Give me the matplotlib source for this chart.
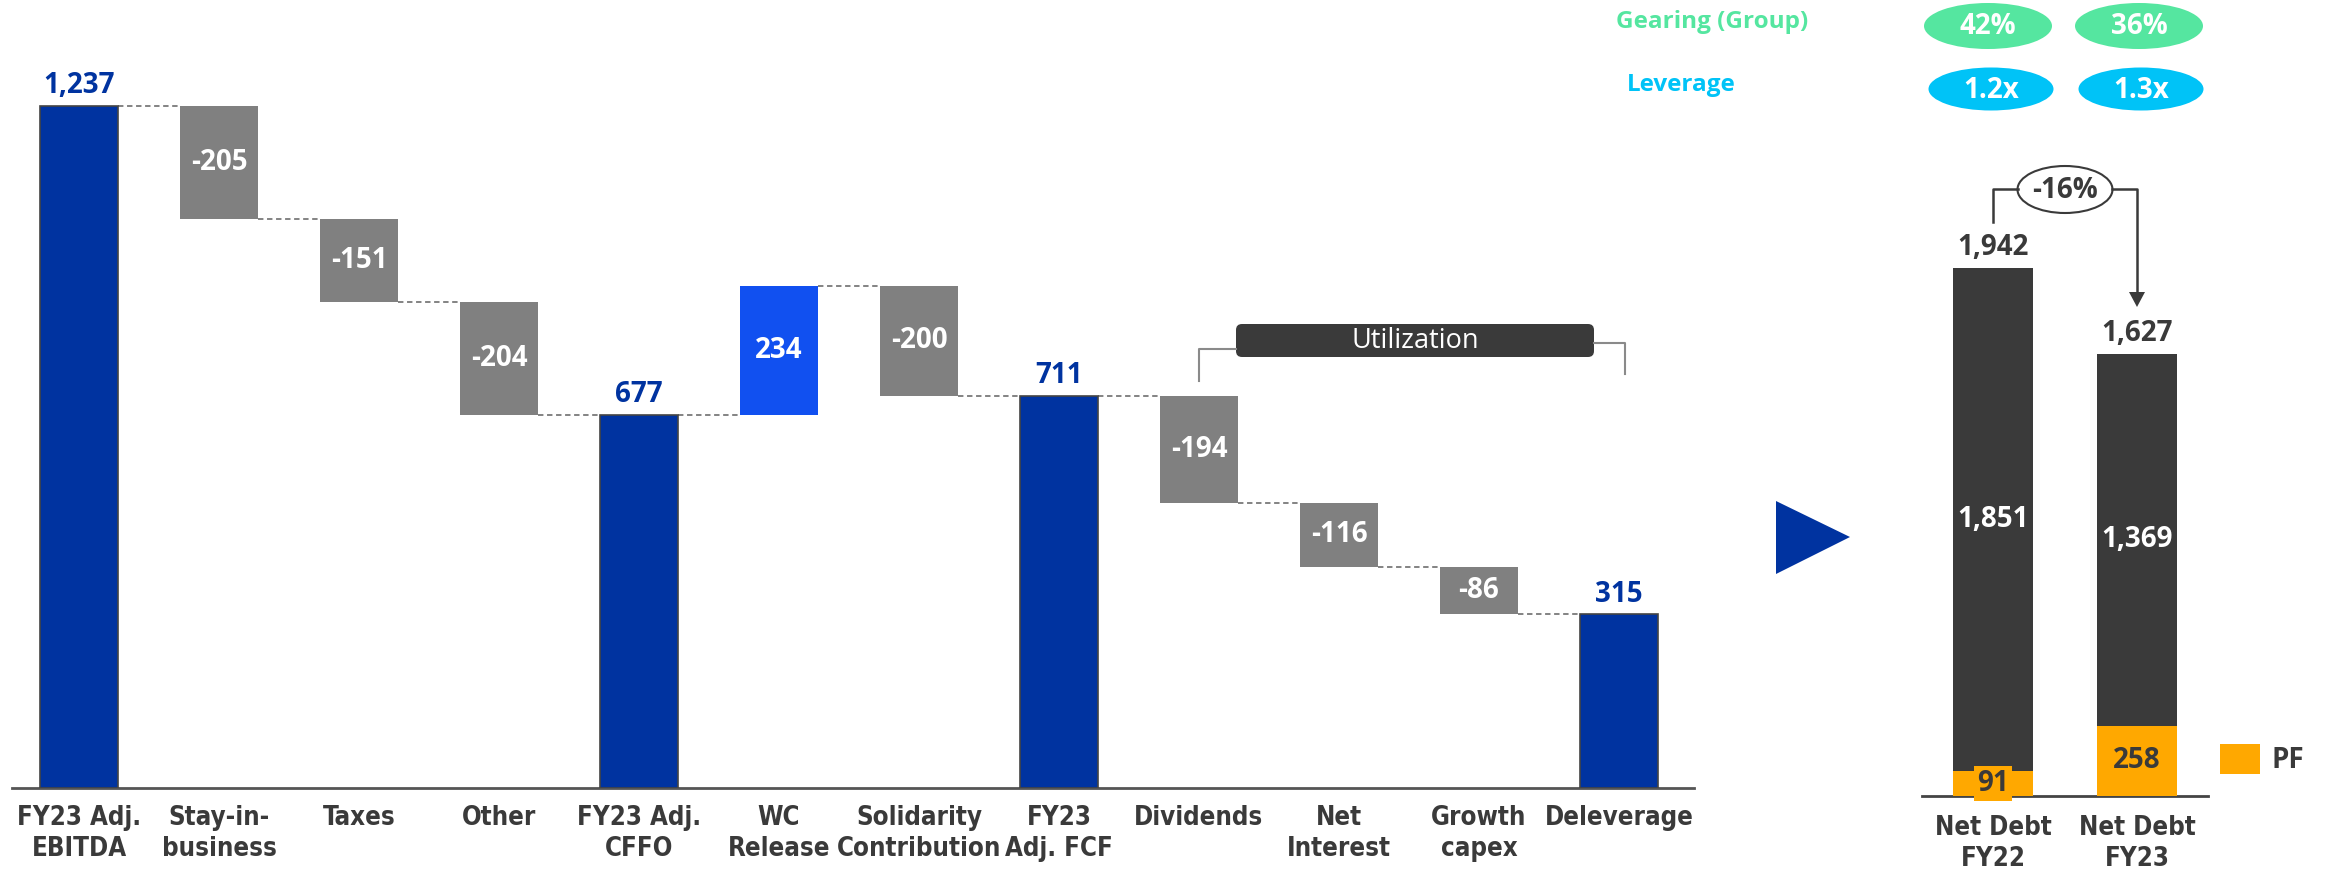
import matplotlib
matplotlib.use('Agg')
import matplotlib.pyplot as plt
from matplotlib import font_manager as fm
from matplotlib.patches import Ellipse, Polygon, FancyBboxPatch, Rectangle
import numpy as np

# ---------------- data ----------------
categories = ["FY23 Adj.\nEBITDA", "Stay-in-\nbusiness", "Taxes", "Other", "FY23 Adj.\nCFFO",
              "WC\nRelease", "Solidarity\nContribution", "FY23\nAdj. FCF", "Dividends",
              "Net\nInterest", "Growth\ncapex", "Deleverage"]
values = [1237, -205, -151, -204, 677, 234, -200, 711, -194, -116, -86, 315]
kinds = ['total', 'delta', 'delta', 'delta', 'total', 'delta', 'delta', 'total',
         'delta', 'delta', 'delta', 'total']
bracket_label = "Utilization"

nd_categories = ["Net Debt\nFY22", "Net Debt\nFY23"]
nd_core = [1851, 1369]
nd_pf = [91, 258]
nd_total = [1942, 1627]
nd_change = "-16%"
pf_label = "PF"

gearing_label = "Gearing (Group)"
gearing = ["42%", "36%"]
leverage_label = "Leverage"
leverage = ["1.2x", "1.3x"]

# ---------------- style ----------------
C_TOTAL = '#0033A0'
C_NEG = '#808080'
C_POS = '#1150F0'
C_DARK = '#3A3A3A'
C_PF = '#FFA800'
C_GREEN = '#55E6A0'
C_CYAN = '#00C3F7'
NUM_FS = 20

names = {f.name for f in fm.fontManager.ttflist}
MAIN = 'Open Sans' if 'Open Sans' in names else 'DejaVu Sans'
cond_dejavu = any(f.name == 'DejaVu Sans' and str(f.stretch) in ('condensed', 'semi-condensed')
                  for f in fm.fontManager.ttflist)
if 'Liberation Sans Narrow' in names:
    tick_fp = fm.FontProperties(family='Liberation Sans Narrow', weight='bold', size=19.5)
elif cond_dejavu:
    tick_fp = fm.FontProperties(family='DejaVu Sans', stretch='condensed', weight='bold', size=18.5)
else:
    tick_fp = fm.FontProperties(family='Roboto', weight='bold', size=17.5)

plt.rcParams['font.family'] = [MAIN, 'DejaVu Sans']

W, H = 2330, 873
fig = plt.figure(figsize=(W / 100, H / 100), dpi=100)

# ---------------- waterfall ----------------
base_y = 788
ax = fig.add_axes([12 / W, (H - base_y) / H, (1694 - 12) / W, base_y / H])
ax.set_xlim(-0.479, 11.536)
ax.set_ylim(0, base_y / 0.5515)

bw = 0.557
bottoms, heights, colors, levels = [], [], [], []
level = 0
for v, k in zip(values, kinds):
    if k == 'total':
        bottoms.append(0); heights.append(v); colors.append(C_TOTAL); level = v
    else:
        if v < 0:
            bottoms.append(level + v); heights.append(-v); colors.append(C_NEG)
        else:
            bottoms.append(level); heights.append(v); colors.append(C_POS)
        level += v
    levels.append(level)

x = np.arange(len(values))
edge = [('#444444' if k == 'total' else 'none') for k in kinds]
ax.bar(x, heights, bottom=bottoms, width=bw, color=colors, edgecolor=edge, linewidth=1.2, zorder=3)

for i in range(len(values) - 1):
    ax.plot([x[i] + bw / 2, x[i + 1] - bw / 2], [levels[i], levels[i]],
            ls=(0, (3, 2)), color='#7A7A7A', lw=1.3, zorder=2)

for i, (v, k) in enumerate(zip(values, kinds)):
    if k == 'total':
        ax.annotate(f"{v:,}", (x[i], v), xytext=(0, 9), textcoords='offset points',
                    ha='center', va='baseline', color=C_TOTAL, fontsize=NUM_FS, fontweight='bold')
    else:
        ax.text(x[i], bottoms[i] + heights[i] / 2, f"{v:,}", ha='center', va='center',
                color='white', fontsize=NUM_FS, fontweight='bold', zorder=4)

for s in ['top', 'right', 'left']:
    ax.spines[s].set_visible(False)
ax.spines['bottom'].set_color('#555555')
ax.spines['bottom'].set_linewidth(2)
ax.set_yticks([])
ax.set_xticks(x)
ax.set_xticklabels(categories, color=C_DARK, linespacing=1.25)
for t in ax.get_xticklabels():
    t.set_fontproperties(tick_fp)
ax.tick_params(axis='x', length=0, pad=12)

# ---------------- net debt ----------------
rb = 796
ax2 = fig.add_axes([1922 / W, (H - rb) / H, (2208 - 1922) / W, rb / H])
ax2.set_xlim(-0.493, 1.493)
ax2.set_ylim(0, rb / 0.2719)
x2 = np.arange(len(nd_core))
bw2 = 0.556
ax2.bar(x2, nd_pf, width=bw2, color=C_PF, zorder=3)
ax2.bar(x2, nd_core, bottom=nd_pf, width=bw2, color=C_DARK, zorder=3)
for i in range(len(x2)):
    ax2.text(x2[i], nd_pf[i] + nd_core[i] / 2, f"{nd_core[i]:,}", ha='center', va='center',
             color='white', fontsize=NUM_FS, fontweight='bold', zorder=4)
    if nd_pf[i] < 150:
        ax2.text(x2[i], nd_pf[i] / 2, f"{nd_pf[i]:,}", ha='center', va='center',
                 color=C_DARK, fontsize=NUM_FS, fontweight='bold', zorder=5,
                 bbox=dict(boxstyle='square,pad=0.1', fc=C_PF, ec='none'))
    else:
        ax2.text(x2[i], nd_pf[i] / 2, f"{nd_pf[i]:,}", ha='center', va='center',
                 color=C_DARK, fontsize=NUM_FS, fontweight='bold', zorder=5)
    ax2.annotate(f"{nd_total[i]:,}", (x2[i], nd_total[i]), xytext=(0, 9),
                 textcoords='offset points', ha='center', va='baseline',
                 color=C_DARK, fontsize=NUM_FS, fontweight='bold')
for s in ['top', 'right', 'left']:
    ax2.spines[s].set_visible(False)
ax2.spines['bottom'].set_color('#444444')
ax2.spines['bottom'].set_linewidth(2)
ax2.set_yticks([])
ax2.set_xticks(x2)
ax2.set_xticklabels(nd_categories, color=C_DARK, linespacing=1.25)
for t in ax2.get_xticklabels():
    t.set_fontproperties(tick_fp)
ax2.tick_params(axis='x', length=0, pad=14)

# ---------------- overlay decorations (pixel coords) ----------------
ov = fig.add_axes([0, 0, 1, 1], facecolor='none')
ov.set_xlim(0, W)
ov.set_ylim(H, 0)
ov.axis('off')

# utilization bracket
ov.add_patch(FancyBboxPatch((1236, 324), 358, 33, boxstyle='round,pad=0,rounding_size=6',
                            fc=C_DARK, ec='none'))
ov.text(1415, 341, bracket_label, ha='center', va='center', color='white', fontsize=19.5)
ov.plot([1199, 1199, 1236], [381, 349, 349], color='#8A8A8A', lw=1.5)
ov.plot([1594, 1625, 1625], [343, 343, 374], color='#8A8A8A', lw=1.5)

# arrow triangle
ov.add_patch(Polygon([(1776, 501), (1776, 574), (1850, 537)], closed=True, fc=C_TOTAL, ec='none'))

# -16% bracket
ov.plot([1993, 1993, 2018], [222, 189, 189], color=C_DARK, lw=1.8)
ov.plot([2112, 2137, 2137], [189, 189, 294], color=C_DARK, lw=1.8)
ov.add_patch(Polygon([(2129, 292), (2145, 292), (2137, 307)], closed=True, fc=C_DARK, ec='none'))
ov.add_patch(Ellipse((2065, 189.5), 95, 47, fc='white', ec=C_DARK, lw=1.5))
ov.text(2065, 190, nd_change, ha='center', va='center', color=C_DARK, fontsize=NUM_FS, fontweight='bold')

# legend
ov.add_patch(Rectangle((2220, 744), 40, 30, fc=C_PF, ec='none'))
ov.text(2272, 760, pf_label, ha='left', va='center', color=C_DARK, fontsize=NUM_FS, fontweight='bold')

# gearing / leverage
ov.text(1712, 22, gearing_label, ha='center', va='center', color=C_GREEN, fontsize=17.5, fontweight='bold')
ov.text(1681, 85, leverage_label, ha='center', va='center', color=C_CYAN, fontsize=17.5, fontweight='bold')
for cx, lab in zip([1988, 2139], gearing):
    ov.add_patch(Ellipse((cx, 26), 128, 46, fc=C_GREEN, ec='none'))
    ov.text(cx, 27, lab, ha='center', va='center', color='white', fontsize=NUM_FS, fontweight='bold')
for cx, lab in zip([1991, 2141], leverage):
    ov.add_patch(Ellipse((cx, 89), 125, 43, fc=C_CYAN, ec='none'))
    ov.text(cx, 90, lab, ha='center', va='center', color='white', fontsize=NUM_FS, fontweight='bold')

fig.savefig('out.png', dpi=100)
